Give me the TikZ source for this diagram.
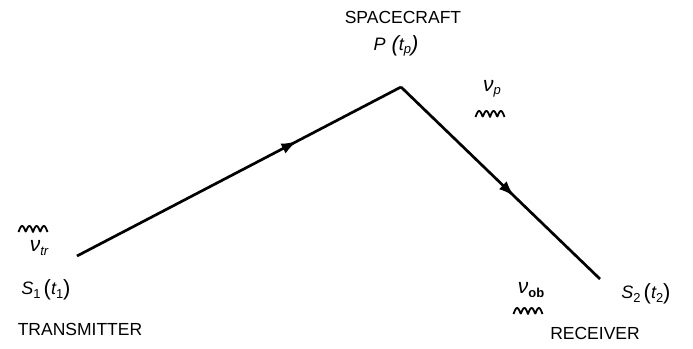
\documentclass[tikz,border=0pt]{standalone}
\usepackage{fontspec}
\setmainfont{Liberation Sans}
\usetikzlibrary{arrows.meta,decorations.markings}
\newcommand{\lsub}[1]{\raisebox{-0.4ex}{\fontsize{13}{14}\selectfont #1}}
\newcommand{\bigpar}[1]{{\fontsize{22}{24}\selectfont\raisebox{-0.1ex}{#1}}}
\newcommand{\bignu}{{\fontsize{21}{22}\selectfont ν}}
\tikzset{
  caps/.style={inner sep=0pt, font=\fontsize{17.5}{20}\selectfont},
  mathlbl/.style={inner sep=0pt, font=\fontsize{18}{20}\selectfont},
  sublbl/.style={inner sep=0pt, font=\fontsize{17}{20}\selectfont},
  pathline/.style={line width=2.7pt},
  midarrow/.style={postaction={decorate}, decoration={markings,
     mark=at position #1 with {\arrow{Latex[length=16pt,width=11pt]}}}},
  wavy/.pic={\draw[line width=1.8pt, line join=round] plot[domain=0:29, samples=59] ({\x-14.5}, {-6*abs(sin(\x*180/7.25))});}
}
\begin{document}
\begin{tikzpicture}[x=1pt,y=-1pt]
\useasboundingbox (0,0) rectangle (693,348);
\coordinate (S1) at (77,256);
\coordinate (P) at (401,87);
\coordinate (S2) at (600,279);
\draw[pathline, midarrow=0.68, line join=miter] (S1) -- (P);
\draw[pathline, midarrow=0.57] (P) -- (S2);
% labels
\node[caps] (spacecraft) at (403,17) {SPACECRAFT};
\node[mathlbl] (ptp) at (396,46) {\itshape P\,\,\bigpar{(}t\lsub{p}\bigpar{)}};
\node[sublbl] (nup) at (492,89) {\itshape\bignu\lsub{p}};
\pic at (490,117) {wavy};
\pic at (33,232) {wavy};
\node[sublbl] (nutr) at (39,248) {\itshape\bignu\lsub{tr}};
\node[mathlbl] (s1) at (46,290) {\itshape S\lsub{\upshape 1}\,\bigpar{\upshape (}t\lsub{\upshape 1}\bigpar{\upshape )}};
\node[caps] (transmitter) at (80,329) {TRANSMITTER};
\node[sublbl] (nuob) at (531,290) {\itshape\bignu\lsub{\upshape\bfseries ob}};
\pic at (528,314) {wavy};
\node[mathlbl] (s2) at (646,294) {\itshape S\lsub{\upshape 2}\,\bigpar{\upshape (}t\lsub{\upshape 2}\bigpar{\upshape )}};
\node[caps] (receiver) at (595,333) {RECEIVER};
\end{tikzpicture}
\end{document}
